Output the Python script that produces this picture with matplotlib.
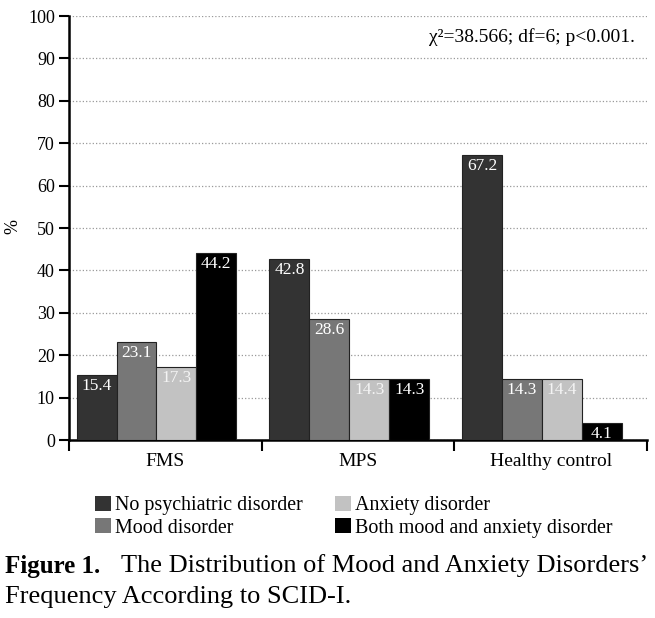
import matplotlib.pyplot as plt
import numpy as np
from matplotlib.patches import Patch

plt.rcParams['font.family'] = ['Liberation Serif', 'DejaVu Serif']

groups = ['FMS', 'MPS', 'Healthy control']
series = ['No psychiatric disorder', 'Mood disorder', 'Anxiety disorder',
          'Both mood and anxiety disorder']
values = [
    [15.4, 42.8, 67.2],   # No psychiatric disorder
    [23.1, 28.6, 14.3],   # Mood disorder
    [17.3, 14.3, 14.4],   # Anxiety disorder
    [44.2, 14.3, 4.1],    # Both
]
colors = ['#333333', '#777777', '#c2c2c2', '#000000']
label_colors = ['white', 'white', '#f4f4f4', 'white']

fig = plt.figure(figsize=(6.55, 6.18), dpi=100)
ax = fig.add_axes([0.105, 0.288, 0.883, 0.686])

width = 0.207
start = 0.041
x0 = np.arange(len(groups))
for i, (name, vals) in enumerate(zip(series, values)):
    xs = x0 + start + i * width
    bars = ax.bar(xs, vals, width=width, align='edge', color=colors[i],
                  edgecolor='#222222', linewidth=0.8, label=name, zorder=3)
    for b, v in zip(bars, vals):
        ax.text(b.get_x() + b.get_width() / 2, v - 2.6, f'{v:.1f}',
                ha='center', va='center', color=label_colors[i], fontsize=12.5,
                zorder=4)

ax.set_xlim(0, 3)
ax.set_ylim(0, 100)
ax.set_yticks(np.arange(0, 101, 10))
ax.set_xticks([0, 1, 2, 3])
ax.set_xticklabels([])
ax.set_xticks(x0 + 0.5, minor=True)
ax.set_xticklabels(groups, minor=True, fontsize=14)
ax.tick_params(axis='x', which='minor', length=0, pad=9)
ax.tick_params(axis='x', which='major', length=8, width=1.5, direction='out')
ax.tick_params(axis='y', length=7, width=1.5, labelsize=13, pad=3)

ax.yaxis.grid(True, linestyle=':', color='#999999', linewidth=0.9, zorder=0)
for s in ['top', 'right']:
    ax.spines[s].set_visible(False)
ax.spines['left'].set_linewidth(1.8)
ax.spines['bottom'].set_linewidth(1.8)

fig.text(13 / 655, 1 - 227 / 618, '%', rotation=90, fontsize=13,
         ha='center', va='center')

ax.text(0.978, 0.95, '\u03c7\u00b2=38.566; df=6; p<0.001.', transform=ax.transAxes,
        ha='right', va='center', fontsize=14)

handles = [Patch(facecolor=c, edgecolor='none') for c in colors]
fig.legend(handles, series,
           loc='center', bbox_to_anchor=(0.54, 0.164), ncol=2, frameon=False,
           fontsize=14.4, handlelength=0.8, handleheight=0.8, handletextpad=0.2,
           columnspacing=1.6, labelspacing=0.15, borderpad=0)

fig.text(5 / 655, 1 - 566 / 618, 'Figure 1.', fontsize=18, fontweight='bold',
         va='center')
fig.text(648 / 655, 1 - 566 / 618,
         "The Distribution of Mood and Anxiety Disorders\u2019",
         fontsize=19, va='center', ha='right')
fig.text(5 / 655, 1 - 597 / 618, 'Frequency According to SCID-I.', fontsize=19,
         va='center')

fig.savefig('out.png', dpi=100)
